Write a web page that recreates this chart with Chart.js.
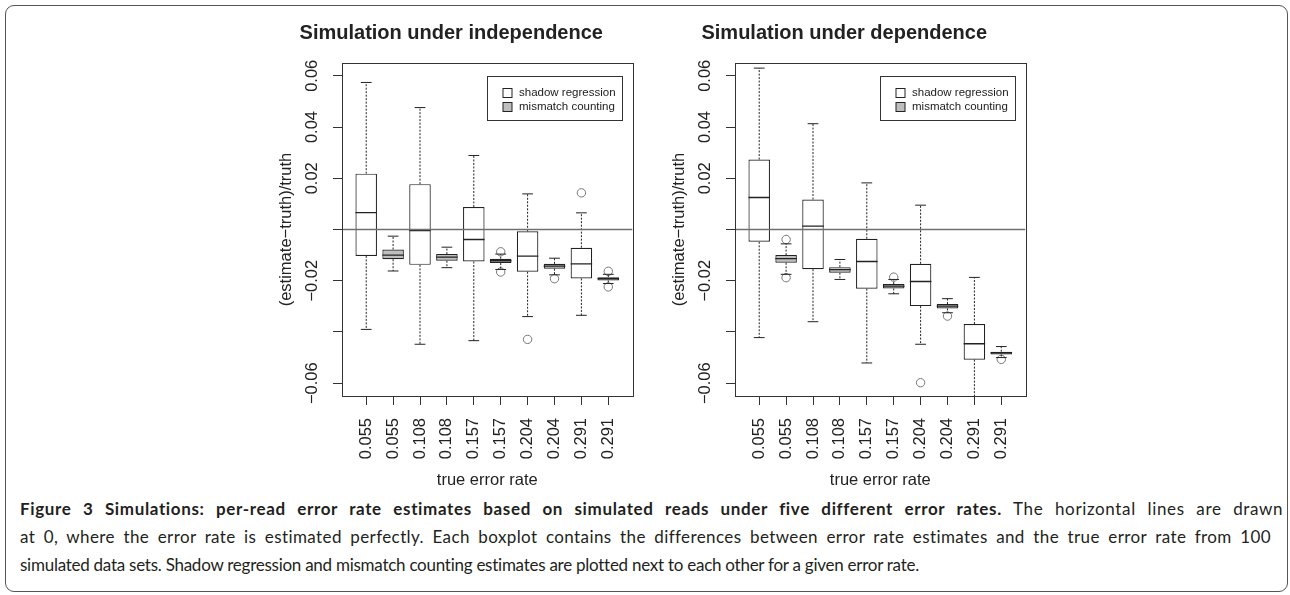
<!DOCTYPE html>
<html>
<head>
<meta charset="UTF-8" />
<title>Figure 3 Simulations</title>
<script src="https://cdn.jsdelivr.net/npm/chart.js"></script>
<style>
  body { margin: 0; width: 1290px; height: 595px; position: relative; background: #fff; overflow: hidden; }
  #frame { position: absolute; left: 5px; top: 5px; width: 1281px; height: 585px; border: 1.5px solid #555; border-radius: 9px; }
  .panel { position: absolute; top: 0; }
  #caption { position: absolute; left: 20px; top: 495px; font-family: Lato, 'Open Sans', sans-serif; font-size: 17px; line-height: 28px; color: #231f20; white-space: nowrap; }
  #caption span.line { display: inline-block; }
</style>
</head>
<body>
  <div id="frame"></div>
  <div class="panel" style="left:270px"><canvas id="indepChart" width="435" height="495"></canvas></div>
  <div class="panel" style="left:663px"><canvas id="depChart" width="435" height="495"></canvas></div>
  <div id="caption">
    <div><span class="line"><b>Figure 3 Simulations: per-read error rate estimates based on simulated reads under five different error rates.</b> The horizontal lines are drawn</span></div>
    <div><span class="line">at 0, where the error rate is estimated perfectly. Each boxplot contains the differences between error rate estimates and the true error rate from 100</span></div>
    <div><span class="line">simulated data sets. Shadow regression and mismatch counting estimates are plotted next to each other for a given error rate.</span></div>
  </div>

  <script>
    // true error rates, one pair of boxes (shadow, mismatch) per rate
    const errorRates = ['0.055', '0.108', '0.157', '0.204', '0.291'];
    const yTicks = [-0.06, -0.04, -0.02, 0, 0.02, 0.04, 0.06];
    const yTickLabels = ['\u22120.06', '', '\u22120.02', '', '0.02', '0.04', '0.06'];
    const seriesNames = ['shadow regression', 'mismatch counting'];

    // five-number summaries: [low whisker, Q1, median, Q3, high whisker]
    const indepShadow = [
      [-0.0390, -0.0103, 0.0066, 0.0218, 0.0574],
      [-0.0448, -0.0138, -0.0004, 0.0177, 0.0476],
      [-0.0434, -0.0125, -0.0039, 0.0088, 0.0289],
      [-0.0340, -0.0165, -0.0104, -0.0007, 0.0139],
      [-0.0335, -0.0191, -0.0134, -0.0071, 0.0065],
    ];
    const indepShadowOut = [[], [], [], [-0.0429], [0.0143]];
    const indepMismatch = [
      [-0.0162, -0.0116, -0.0100, -0.0078, -0.0026],
      [-0.0149, -0.0122, -0.0108, -0.0096, -0.0069],
      [-0.0156, -0.0131, -0.0122, -0.0114, -0.0096],
      [-0.0177, -0.0153, -0.0143, -0.0134, -0.0112],
      [-0.0211, -0.0199, -0.0192, -0.0186, -0.0175],
    ];
    const indepMismatchOut = [[], [], [-0.0087, -0.0166], [-0.0192], [-0.0163, -0.0224]];

    const depShadow = [
      [-0.0422, -0.0048, 0.0125, 0.0273, 0.0630],
      [-0.0360, -0.0155, 0.0013, 0.0117, 0.0413],
      [-0.0521, -0.0231, -0.0125, -0.0036, 0.0182],
      [-0.0448, -0.0299, -0.0203, -0.0134, 0.0095],
      [-0.0750, -0.0508, -0.0446, -0.0369, -0.0187],
    ];
    const depShadowOut = [[], [], [], [-0.0598], []];
    const depMismatch = [
      [-0.0175, -0.0130, -0.0114, -0.0100, -0.0056],
      [-0.0195, -0.0169, -0.0157, -0.0147, -0.0117],
      [-0.0251, -0.0230, -0.0221, -0.0213, -0.0195],
      [-0.0325, -0.0308, -0.0299, -0.0291, -0.0270],
      [-0.0500, -0.0488, -0.0482, -0.0477, -0.0457],
    ];
    const depMismatchOut = [[-0.0039, -0.0188], [], [-0.0186], [-0.0338], [-0.0507]];

    const refLine = 0;

    const xLabels = errorRates.flatMap(r => [r, r]);
    const xPos = xLabels.map((r, i) => i + 1);
    const shadowPos = errorRates.map((r, i) => 2 * i + 1);
    const mismatchPos = errorRates.map((r, i) => 2 * i + 2);

    const axisFont = { family: "'Liberation Sans', Arial, sans-serif", size: 16.5 };
    const ink = '#222';

    // whiskers, caps, medians, the line at 0, plot box and legend
    const boxPlugin = {
      id: 'boxDraw',
      afterDatasetsDraw(chart, args, opts) {
        const { ctx, chartArea: a } = chart;
        const xs = chart.scales.x, ys = chart.scales.y;
        ctx.save();
        ctx.beginPath();
        ctx.rect(a.left, a.top, a.right - a.left, a.bottom - a.top);
        ctx.clip();
        ctx.strokeStyle = ink;
        opts.groups.forEach(g => {
          g.stats.forEach((s, i) => {
            const cx = xs.getPixelForValue(g.pos[i]);
            const hw = xs.getPixelForValue(g.pos[i] + 0.4) - cx;
            const [lo, q1, med, q3, hi] = s.map(v => ys.getPixelForValue(v));
            ctx.lineWidth = 1;
            ctx.setLineDash([2, 1.5]);
            ctx.beginPath();
            ctx.moveTo(cx, q3); ctx.lineTo(cx, hi);
            ctx.moveTo(cx, q1); ctx.lineTo(cx, lo);
            ctx.stroke();
            ctx.setLineDash([]);
            ctx.beginPath();
            ctx.moveTo(cx - hw / 2, hi); ctx.lineTo(cx + hw / 2, hi);
            ctx.moveTo(cx - hw / 2, lo); ctx.lineTo(cx + hw / 2, lo);
            ctx.stroke();
            ctx.lineWidth = 1.3;
            ctx.beginPath();
            ctx.moveTo(cx - hw, med); ctx.lineTo(cx + hw, med);
            ctx.stroke();
          });
        });
        const y0 = ys.getPixelForValue(opts.refLine);
        ctx.strokeStyle = '#707070';
        ctx.lineWidth = 1.5;
        ctx.beginPath();
        ctx.moveTo(a.left, y0); ctx.lineTo(a.right, y0);
        ctx.stroke();
        ctx.restore();

        ctx.save();
        ctx.strokeStyle = '#333';
        ctx.lineWidth = 1;
        ctx.strokeRect(Math.round(a.left) + 0.5, Math.round(a.top) + 0.5,
          Math.round(a.right - a.left), Math.round(a.bottom - a.top));

        // legend box, top right inside the plot
        const w = 135, h = 44;
        const lx = Math.round(a.right - 10.5 - w) + 0.5, ly = Math.round(a.top + 12.7) + 0.5;
        ctx.fillStyle = '#fff';
        ctx.fillRect(lx, ly, w, h);
        ctx.strokeRect(lx, ly, w, h);
        ctx.font = "11.5px 'Liberation Sans', Arial, sans-serif";
        ctx.textBaseline = 'middle';
        chart.data.datasets.slice(0, 2).forEach((ds, k) => {
          const cy = ly + 16 + k * 14.3;
          ctx.fillStyle = ds.backgroundColor;
          ctx.fillRect(lx + 15.5, Math.round(cy - 4.5) + 0.5, 9, 9);
          ctx.strokeStyle = ink;
          ctx.strokeRect(lx + 15.5, Math.round(cy - 4.5) + 0.5, 9, 9);
          ctx.fillStyle = ink;
          ctx.fillText(ds.label, lx + 31.5, cy);
        });
        ctx.restore();
      }
    };

    function outlierPoints(out, pos) {
      return out.flatMap((vals, i) => vals.map(v => ({ x: pos[i], y: v })));
    }

    function boxDataset(label, stats, pos, fill) {
      return {
        type: 'bar',
        label: label,
        data: stats.map((s, i) => ({ x: pos[i], y: [s[1], s[3]] })),
        backgroundColor: fill,
        borderColor: ink,
        borderWidth: 1.2,
        borderSkipped: false,
        barPercentage: 0.8,
        categoryPercentage: 1,
        grouped: false,
      };
    }

    function outlierDataset(label, out, pos) {
      return {
        type: 'scatter',
        label: label,
        data: outlierPoints(out, pos),
        pointStyle: 'circle',
        pointRadius: 4.2,
        backgroundColor: 'rgba(0,0,0,0)',
        borderColor: '#777',
        borderWidth: 1,
      };
    }

    function create_chart(id, title, shadow, shadowOut, mismatch, mismatchOut) {
      const ctx = document.getElementById(id).getContext('2d');
      return new Chart(ctx, {
        type: 'bar',
        data: {
          datasets: [
            boxDataset(seriesNames[0], shadow, shadowPos, '#ffffff'),
            boxDataset(seriesNames[1], mismatch, mismatchPos, '#bebebe'),
            outlierDataset('shadow outliers', shadowOut, shadowPos),
            outlierDataset('mismatch outliers', mismatchOut, mismatchPos),
          ]
        },
        options: {
          responsive: false,
          animation: false,
          layout: { padding: { left: 0, right: 72.5, top: 0, bottom: 0 } },
          plugins: {
            legend: { display: false },
            tooltip: { enabled: false },
            title: {
              display: true,
              text: title,
              color: ink,
              font: { family: "'Liberation Sans', Arial, sans-serif", size: 20, weight: 'bold' },
              padding: { top: 21, bottom: 18 },
            },
            boxDraw: {
              refLine: refLine,
              groups: [
                { stats: shadow, pos: shadowPos },
                { stats: mismatch, pos: mismatchPos },
              ],
            },
          },
          scales: {
            x: {
              type: 'linear',
              min: 0.1,
              max: 10.9,
              offset: false,
              afterBuildTicks: s => { s.ticks = xPos.map(v => ({ value: v })); },
              afterFit: s => { s.height = 99; },
              ticks: {
                autoSkip: false,
                minRotation: 90,
                maxRotation: 90,
                padding: 13,
                color: ink,
                font: axisFont,
                callback: (v, i) => xLabels[i],
              },
              grid: { offset: false, drawOnChartArea: false, drawTicks: true, tickLength: 9, color: '#333' },
              border: { display: false },
              title: { display: true, text: 'true error rate', color: ink, font: axisFont, padding: { top: 0, bottom: 4.4 } },
            },
            y: {
              type: 'linear',
              min: -0.065,
              max: 0.065,
              afterBuildTicks: s => { s.ticks = yTicks.map(v => ({ value: v })); },
              afterFit: s => { s.width = 72; },
              ticks: {
                autoSkip: false,
                minRotation: 90,
                maxRotation: 90,
                crossAlign: 'center',
                padding: 0,
                color: ink,
                font: axisFont,
                callback: (v, i) => yTickLabels[i],
              },
              grid: { drawOnChartArea: false, drawTicks: true, tickLength: 9, color: '#333' },
              border: { display: false },
              title: { display: true, text: '(estimate\u2212truth)/truth', color: ink, font: axisFont, padding: { top: 6.4 } },
            },
          },
        },
        plugins: [boxPlugin],
      });
    }

    const charts = [
      create_chart('indepChart', 'Simulation under independence', indepShadow, indepShadowOut, indepMismatch, indepMismatchOut),
      create_chart('depChart', 'Simulation under dependence', depShadow, depShadowOut, depMismatch, depMismatchOut),
    ];

    // the caption is justified: the first two lines fill the full width
    // (partly letter spacing, partly word gaps); the last line only gets its letters fitted
    const lineWidths = [1263, 1251, 899];
    const wordShare = [0.6, 0.6, 0];
    document.querySelectorAll('#caption span.line').forEach((el, i) => {
      const w = el.getBoundingClientRect().width;
      const text = el.textContent;
      const gaps = (text.match(/ /g) || []).length;
      const d = lineWidths[i] - w;
      el.style.letterSpacing = (d * (1 - wordShare[i]) / text.length) + 'px';
      el.style.wordSpacing = (d * wordShare[i] / gaps) + 'px';
    });
  </script>
</body>
</html>
